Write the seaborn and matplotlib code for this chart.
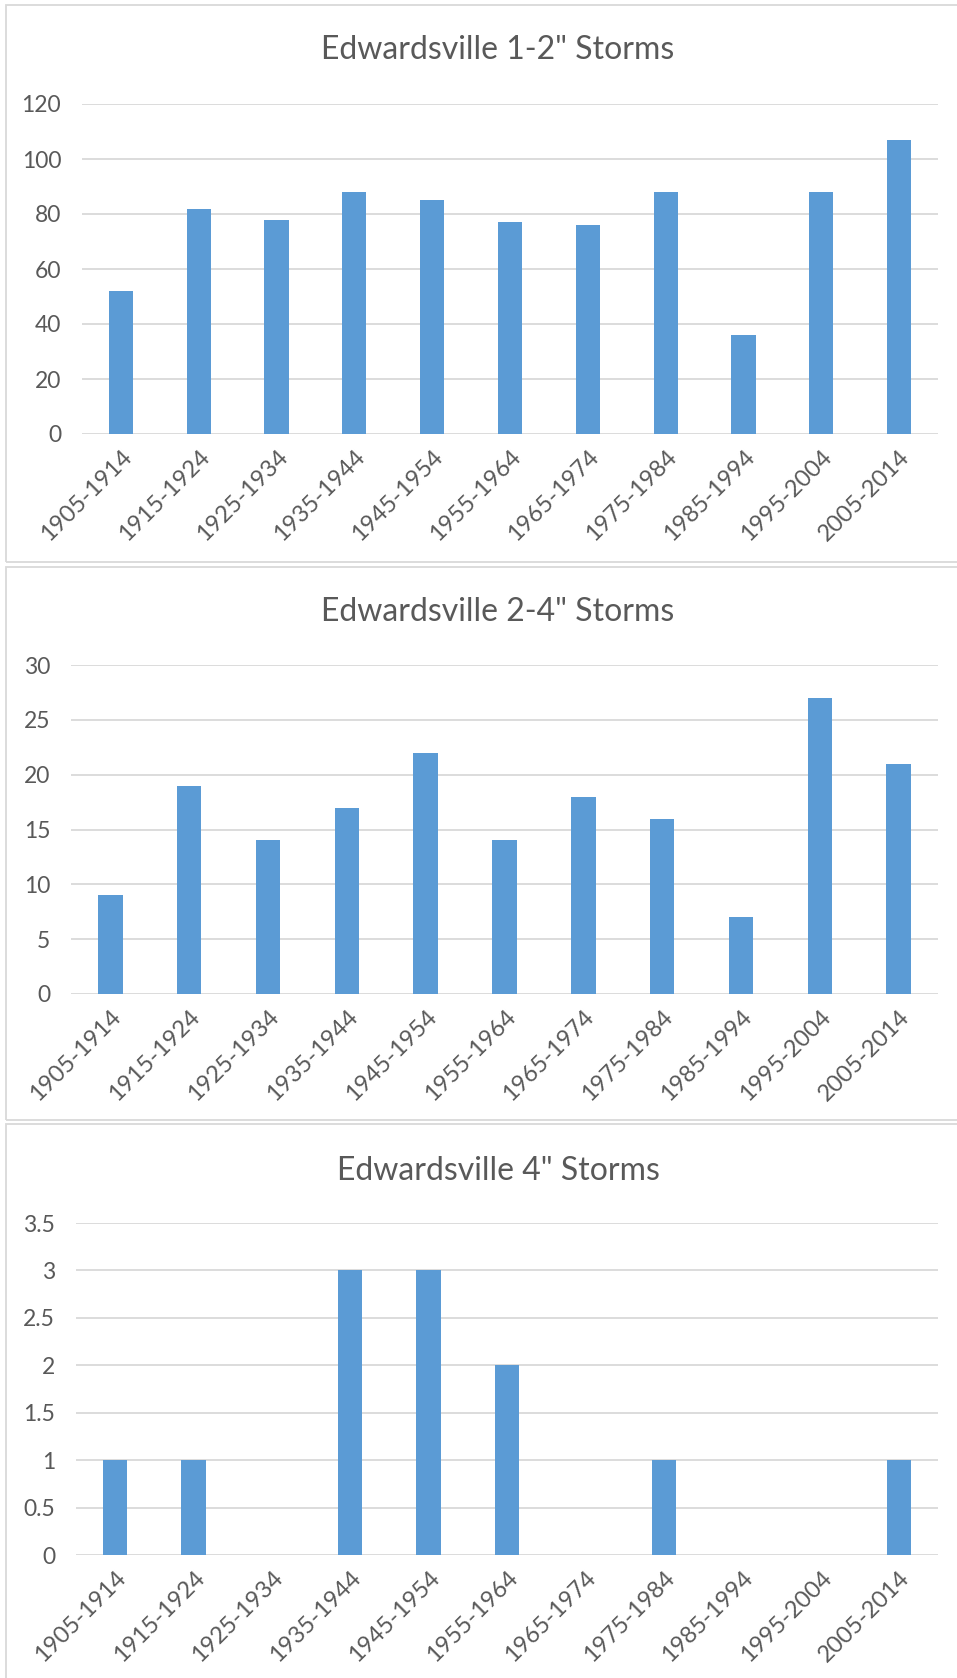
import matplotlib
matplotlib.use("Agg")
import matplotlib.pyplot as plt
import matplotlib.patches as mpatches
import seaborn as sns
import pandas as pd

periods = ["1905-1914", "1915-1924", "1925-1934", "1935-1944", "1945-1954",
           "1955-1964", "1965-1974", "1975-1984", "1985-1994", "1995-2004",
           "2005-2014"]
storms_1_2 = [52, 82, 78, 88, 85, 77, 76, 88, 36, 88, 107]
storms_2_4 = [9, 19, 14, 17, 22, 14, 18, 16, 7, 27, 21]
storms_4 = [1, 1, 0, 3, 3, 2, 0, 1, 0, 0, 1]

titles = ['Edwardsville 1-2" Storms', 'Edwardsville 2-4" Storms', 'Edwardsville 4" Storms']
yticks_list = [[0, 20, 40, 60, 80, 100, 120],
               [0, 5, 10, 15, 20, 25, 30],
               [0, 0.5, 1, 1.5, 2, 2.5, 3, 3.5]]
ytick_labels_list = [["0", "20", "40", "60", "80", "100", "120"],
                     ["0", "5", "10", "15", "20", "25", "30"],
                     ["0", "0.5", "1", "1.5", "2", "2.5", "3", "3.5"]]

sns.set_theme(style="white")
plt.rcParams["font.family"] = ["Lato", "DejaVu Sans"]

BAR = "#5B9BD5"
GRID = "#D9D9D9"
TEXT = "#595959"

W, H = 957, 1678
fig = plt.figure(figsize=(W / 100, H / 100), dpi=100)
fig.patch.set_facecolor("white")

# (panel top, panel bottom, axes left, axes top, axes bottom, title y) in pixels
layout = [
    (5, 562, 82, 104, 434, 50),
    (567, 1120, 71, 665, 994, 612),
    (1124, 1690, 76, 1223, 1555, 1171),
]
right_px = 938

for series, title, yt, ytl, (ptop, pbot, left, atop, abot, ty) in zip(
        [storms_1_2, storms_2_4, storms_4], titles, yticks_list, ytick_labels_list, layout):
    # panel frame
    fig.add_artist(mpatches.Rectangle(
        (6 / W, 1 - pbot / H), (W + 10) / W, (pbot - ptop) / H,
        transform=fig.transFigure, facecolor="none", edgecolor=GRID, linewidth=1.3))

    ax = fig.add_axes([left / W, 1 - abot / H, (right_px - left) / W, (abot - atop) / H])
    df = pd.DataFrame({"period": periods, "count": series})
    sns.barplot(data=df, x="period", y="count", color=BAR, saturation=1,
                width=0.31, ax=ax, linewidth=0)
    ax.set_ylim(yt[0], yt[-1])
    ax.set_xlim(-0.5, len(periods) - 0.5)
    ax.set_yticks(yt)
    ax.set_yticklabels(ytl, fontsize=16.5, color=TEXT)
    ax.set_xticks(range(len(periods)))
    ax.set_xticklabels(periods, fontsize=17, color=TEXT, rotation=45,
                       ha="right", rotation_mode="anchor")
    ax.tick_params(axis="x", length=0, pad=9)
    ax.tick_params(axis="y", length=0, pad=15)
    ax.set_xlabel("")
    ax.set_ylabel("")
    ax.yaxis.grid(True, color=GRID, linewidth=1.3)
    ax.set_axisbelow(True)
    for s in ["top", "right", "left", "bottom"]:
        ax.spines[s].set_visible(False)
    ax.set_facecolor("none")

    fig.text(498 / W, 1 - ty / H, title, ha="center", va="center",
             fontsize=23, color=TEXT)

fig.savefig("out.png", dpi=100, facecolor="white")
